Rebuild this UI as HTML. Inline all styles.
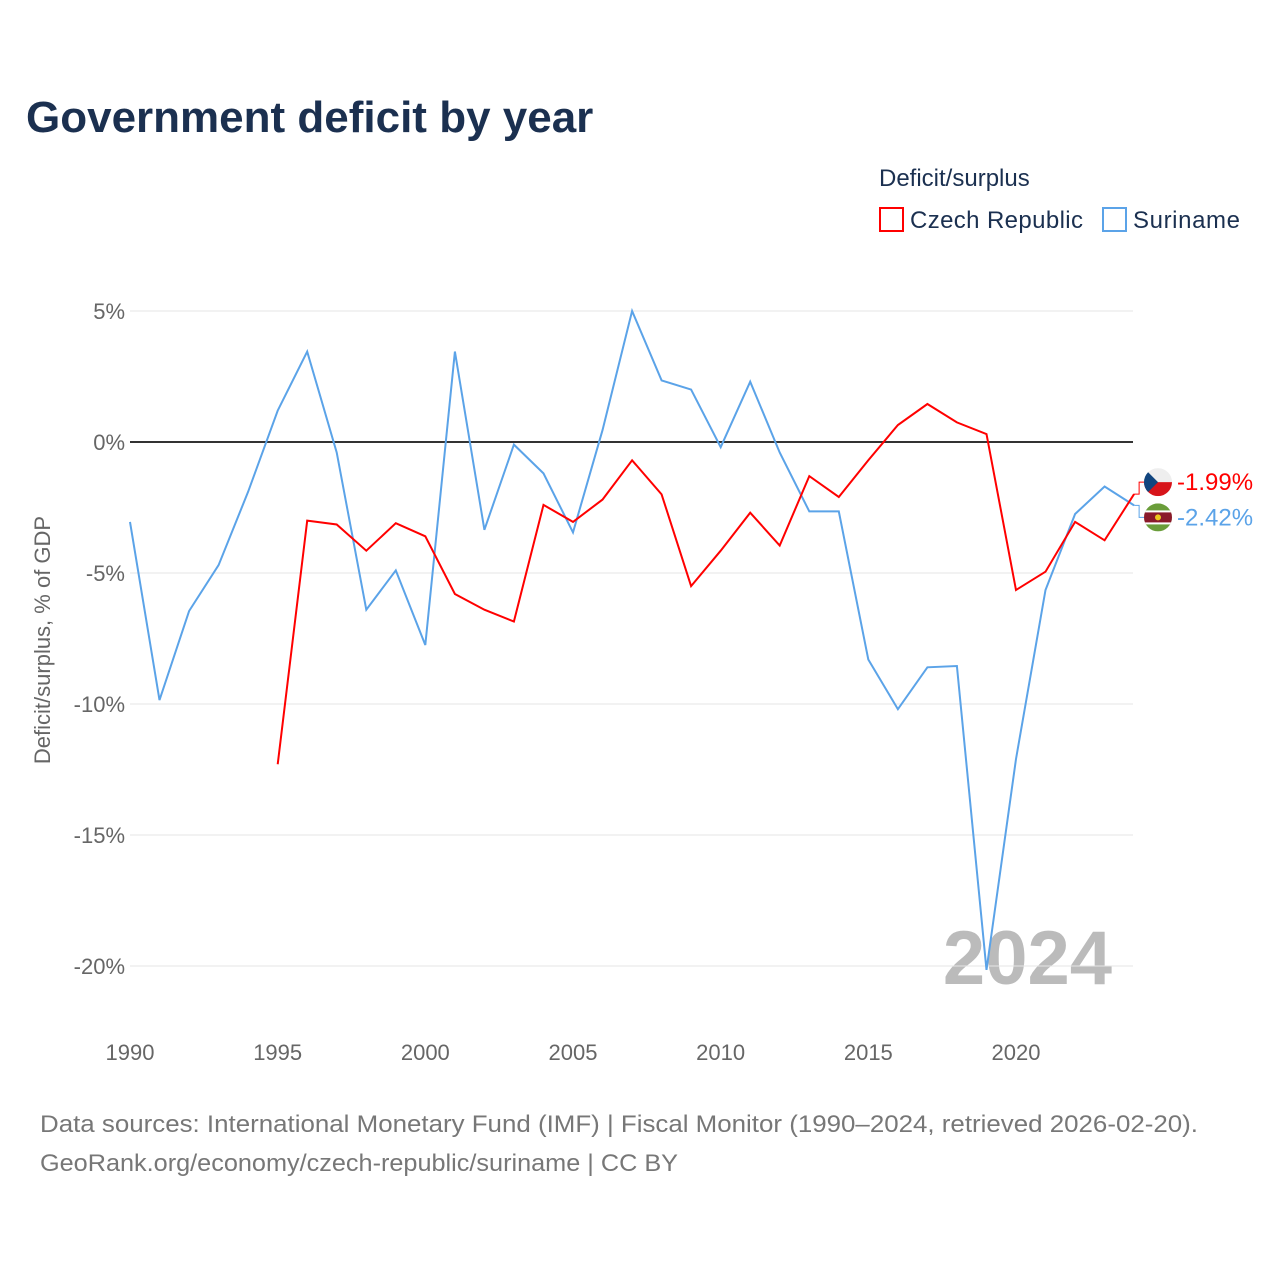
<!DOCTYPE html>
<html><head><meta charset="utf-8"><style>
body{margin:0;background:#fff;font-family:"Liberation Sans",sans-serif}
</style></head><body>
<svg id="c" width="1280" height="1280" xmlns="http://www.w3.org/2000/svg">
<text x="26" y="132" font-size="44" font-weight="bold" fill="#1b3050">Government deficit by year</text>
<text x="879" y="186" font-size="24" fill="#1b3050">Deficit/surplus</text>
<g><rect x="880" y="208" width="23" height="23" fill="none" stroke="#ff0000" stroke-width="2"/><text x="910" y="228" font-size="24" fill="#1b3050" textLength="173">Czech Republic</text></g>
<g><rect x="1103" y="208" width="23" height="23" fill="none" stroke="#5ba3e8" stroke-width="2"/><text x="1133" y="228" font-size="24" fill="#1b3050" textLength="107">Suriname</text></g>
<text transform="translate(50,640) rotate(-90)" text-anchor="middle" font-size="22" fill="#666">Deficit/surplus, % of GDP</text>
<text x="1112" y="984" text-anchor="end" font-size="76" font-weight="bold" fill="#bbb">2024</text>
<g id="grid"></g><g id="series"></g>
<text x="40" y="1132" font-size="24" fill="#777" textLength="1158" lengthAdjust="spacingAndGlyphs">Data sources: International Monetary Fund (IMF) | Fiscal Monitor (1990–2024, retrieved 2026-02-20).</text>
<text x="40" y="1171" font-size="24" fill="#777" textLength="638" lengthAdjust="spacingAndGlyphs">GeoRank.org/economy/czech-republic/suriname | CC BY</text>
</svg>
<script>
const years=[1990,1991,1992,1993,1994,1995,1996,1997,1998,1999,2000,2001,2002,2003,2004,2005,2006,2007,2008,2009,2010,2011,2012,2013,2014,2015,2016,2017,2018,2019,2020,2021,2022,2023,2024];
const suriname=[-3.05,-9.85,-6.45,-4.7,-1.9,1.2,3.45,-0.4,-6.4,-4.9,-7.75,3.45,-3.35,-0.1,-1.2,-3.45,0.45,5.0,2.35,2.0,-0.2,2.3,-0.4,-2.65,-2.65,-8.3,-10.2,-8.6,-8.55,-20.15,-12.1,-5.65,-2.75,-1.7,-2.42];
const czech=[null,null,null,null,null,-12.3,-3.0,-3.15,-4.15,-3.1,-3.6,-5.8,-6.4,-6.85,-2.4,-3.05,-2.2,-0.7,-2.0,-5.5,-4.15,-2.7,-3.95,-1.3,-2.1,-0.7,0.65,1.45,0.75,0.3,-5.65,-4.95,-3.05,-3.75,-1.99];
const yTicks=[5,0,-5,-10,-15,-20];
const xTicks=[1990,1995,2000,2005,2010,2015,2020];
const NS="http://www.w3.org/2000/svg";
const X=y=>130+(y-1990)*29.533, Y=v=>442-v*26.2;
function mk(t,a,p){const e=document.createElementNS(NS,t);for(const k in a)e.setAttribute(k,a[k]);p.appendChild(e);return e;}
const g=document.getElementById('grid'),s=document.getElementById('series');
yTicks.forEach(v=>{
 const l=mk('line',{x1:130,x2:1133,y1:Y(v),y2:Y(v),stroke:v===0?'#333':'#e6e6e6','stroke-width':v===0?2:1},g);
 
 
 const t=mk('text',{x:125,y:Y(v)+8,'text-anchor':'end','font-size':22,fill:'#666'},g);
 
 
 t.textContent=v+'%';
});
xTicks.forEach(v=>{
 const t=mk('text',{x:X(v),y:1060,'text-anchor':'middle','font-size':22,fill:'#666'},g);
 
 
 t.textContent=v;
});
function line(d,col,name){
 let p='';d.forEach((v,i)=>{if(v===null)return;p+=(p?'L':'M')+X(years[i]).toFixed(1)+','+Y(v).toFixed(1);});
 const e=mk('path',{d:p,fill:'none',stroke:col,'stroke-width':2},s);
 
 
}
line(suriname,'#5ba3e8','line-suriname');
line(czech,'#ff0000','line-czech');
const n=years.length-1,ex=X(years[n]);
const cy=Y(czech[n]),sy=Y(suriname[n]);
const ly1=Math.min(cy,sy)-12,ly2=Math.max(cy,sy)+12;
const cl=cy<sy?ly1:ly2, sl=cy<sy?ly2:ly1;
mk('path',{d:`M${ex},${cy}L${ex+5},${cy}L${ex+5},${cl}L${ex+12},${cl}`,fill:'none',stroke:'#ff0000','stroke-width':1},s);
mk('path',{d:`M${ex},${sy}L${ex+5},${sy}L${ex+5},${sl}L${ex+12},${sl}`,fill:'none',stroke:'#5ba3e8','stroke-width':1},s);
const fc=mk('g',{},s);


const cc=mk('clipPath',{id:'cc'},fc);mk('circle',{cx:1158,cy:cl,r:14},cc);
const gc=mk('g',{'clip-path':'url(#cc)'},fc);
mk('rect',{x:1144,y:cl-14,width:28,height:14,fill:'#eee'},gc);
mk('rect',{x:1144,y:cl,width:28,height:14,fill:'#d7141a'},gc);
mk('path',{d:`M1144,${cl-14}L1158,${cl}L1144,${cl+14}Z`,fill:'#11457e'},gc);
const fs=mk('g',{},s);


const cp=mk('clipPath',{id:'sc'},fs);mk('circle',{cx:1158,cy:sl,r:14},cp);
const gs=mk('g',{'clip-path':'url(#sc)'},fs);
mk('rect',{x:1144,y:sl-14,width:28,height:28,fill:'#6a9d3a'},gs);
mk('rect',{x:1144,y:sl-7,width:28,height:14,fill:'#fff'},gs);
mk('rect',{x:1144,y:sl-5,width:28,height:10,fill:'#8a1a2a'},gs);
mk('circle',{cx:1158,cy:sl,r:3,fill:'#ecc81d'},gs);
[[czech[n],cl,'#ff0000','end-label-czech'],[suriname[n],sl,'#5ba3e8','end-label-suriname']].forEach(([v,yy,c,nm])=>{
 const t=mk('text',{x:1177,y:yy+8,'font-size':24,fill:c},s);
 
 
 t.textContent=v.toFixed(2)+'%';
});
</script>
</body></html>
